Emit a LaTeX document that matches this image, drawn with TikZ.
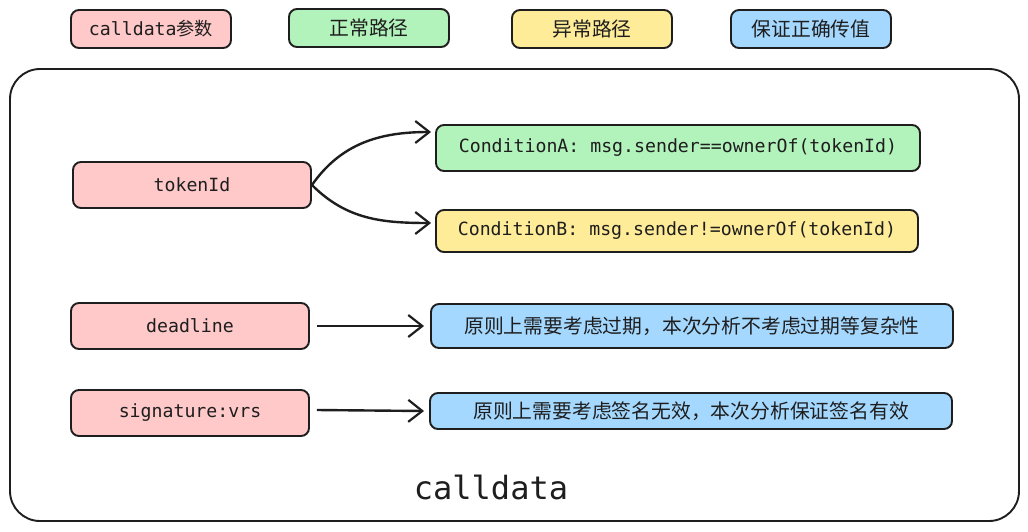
\documentclass[tikz,border=0pt]{standalone}
\usepackage{fontspec}
\usepackage{xcolor}
\usepackage{tikz}
\usetikzlibrary{positioning,calc,arrows.meta}
\setmonofont{DejaVu Sans Mono}
\newfontfamily\cjk{Noto Sans CJK SC}
\definecolor{ink}{HTML}{1E1E1E}
\definecolor{pinkfill}{HTML}{FFC9C9}
\definecolor{greenfill}{HTML}{B2F2BB}
\definecolor{yellowfill}{HTML}{FFEC99}
\definecolor{bluefill}{HTML}{A5D8FF}
\tikzset{
  box/.style={draw=ink, line width=1.9pt, rounded corners=8pt, text=ink, inner sep=0pt},
  monotext/.style={font=\fontsize{18.2}{21}\ttfamily},
  param/.style={box, fill=pinkfill, minimum width=238pt, minimum height=46pt, monotext},
  legend/.style={box, minimum width=160pt, minimum height=38pt},
  cjktext/.style={font=\fontsize{19.8}{23}\cjk},
  link/.style={draw=ink, line width=2.4pt, -{Straight Barb[length=14pt,width=22pt,line width=2.2pt]}}
}
\begin{document}
\begin{tikzpicture}[x=1pt,y=-1pt]
    \useasboundingbox (0,0) rectangle (1028,531);
    % legend
    \node[legend, fill=pinkfill, monotext] (lgcall) at (151,29) {calldata{\cjk 参数}};
    \node[legend, fill=greenfill, cjktext] (lgok) at (369,28) {正常路径};
    \node[legend, fill=yellowfill, cjktext] (lgerr) at (592,29) {异常路径};
    \node[legend, fill=bluefill, cjktext] (lgsure) at (811,29) {保证正确传值};

    % calldata frame
    \draw[ink, line width=1.9pt, rounded corners=30pt] (10,69) rectangle (1019,521);
    \node[text=ink, font=\fontsize{32}{36}\ttfamily] (frame) at (491,487) {calldata};

    % parameters
    \node[param] (tok) at (192,185) {tokenId};
    \node[param] (dl) at (190,326) {deadline};
    \node[param] (sig) at (190,413) {signature:vrs};

    \node[box, fill=greenfill, minimum width=484pt, minimum height=46pt, monotext] (ca) at (678,148) {ConditionA: msg.sender==ownerOf(tokenId)};
    \node[box, fill=yellowfill, minimum width=482pt, minimum height=42pt, monotext] (cb) at (677,231) {ConditionB: msg.sender!=ownerOf(tokenId)};
    \node[box, fill=bluefill, minimum width=522pt, minimum height=44pt, cjktext] (dlnote) at (692,326) {原则上需要考虑过期，本次分析不考虑过期等复杂性};
    \node[box, fill=bluefill, minimum width=522pt, minimum height=36pt, cjktext] (signote) at (691,411) {原则上需要考虑签名无效，本次分析保证签名有效};

    % connectors
    \draw[link] (tok.east) to[out=55,in=180] ([xshift=-4pt,yshift=16pt]ca.west);
    \draw[link] (tok.east) to[out=-45,in=180] ([xshift=-4pt,yshift=8pt]cb.west);
    \draw[link] ([xshift=7pt]dl.east) -- ([xshift=-6pt]dlnote.west);
    \draw[link] ([xshift=7pt,yshift=3pt]sig.east) -- ([xshift=-5pt]signote.west);
\end{tikzpicture}
\end{document}
